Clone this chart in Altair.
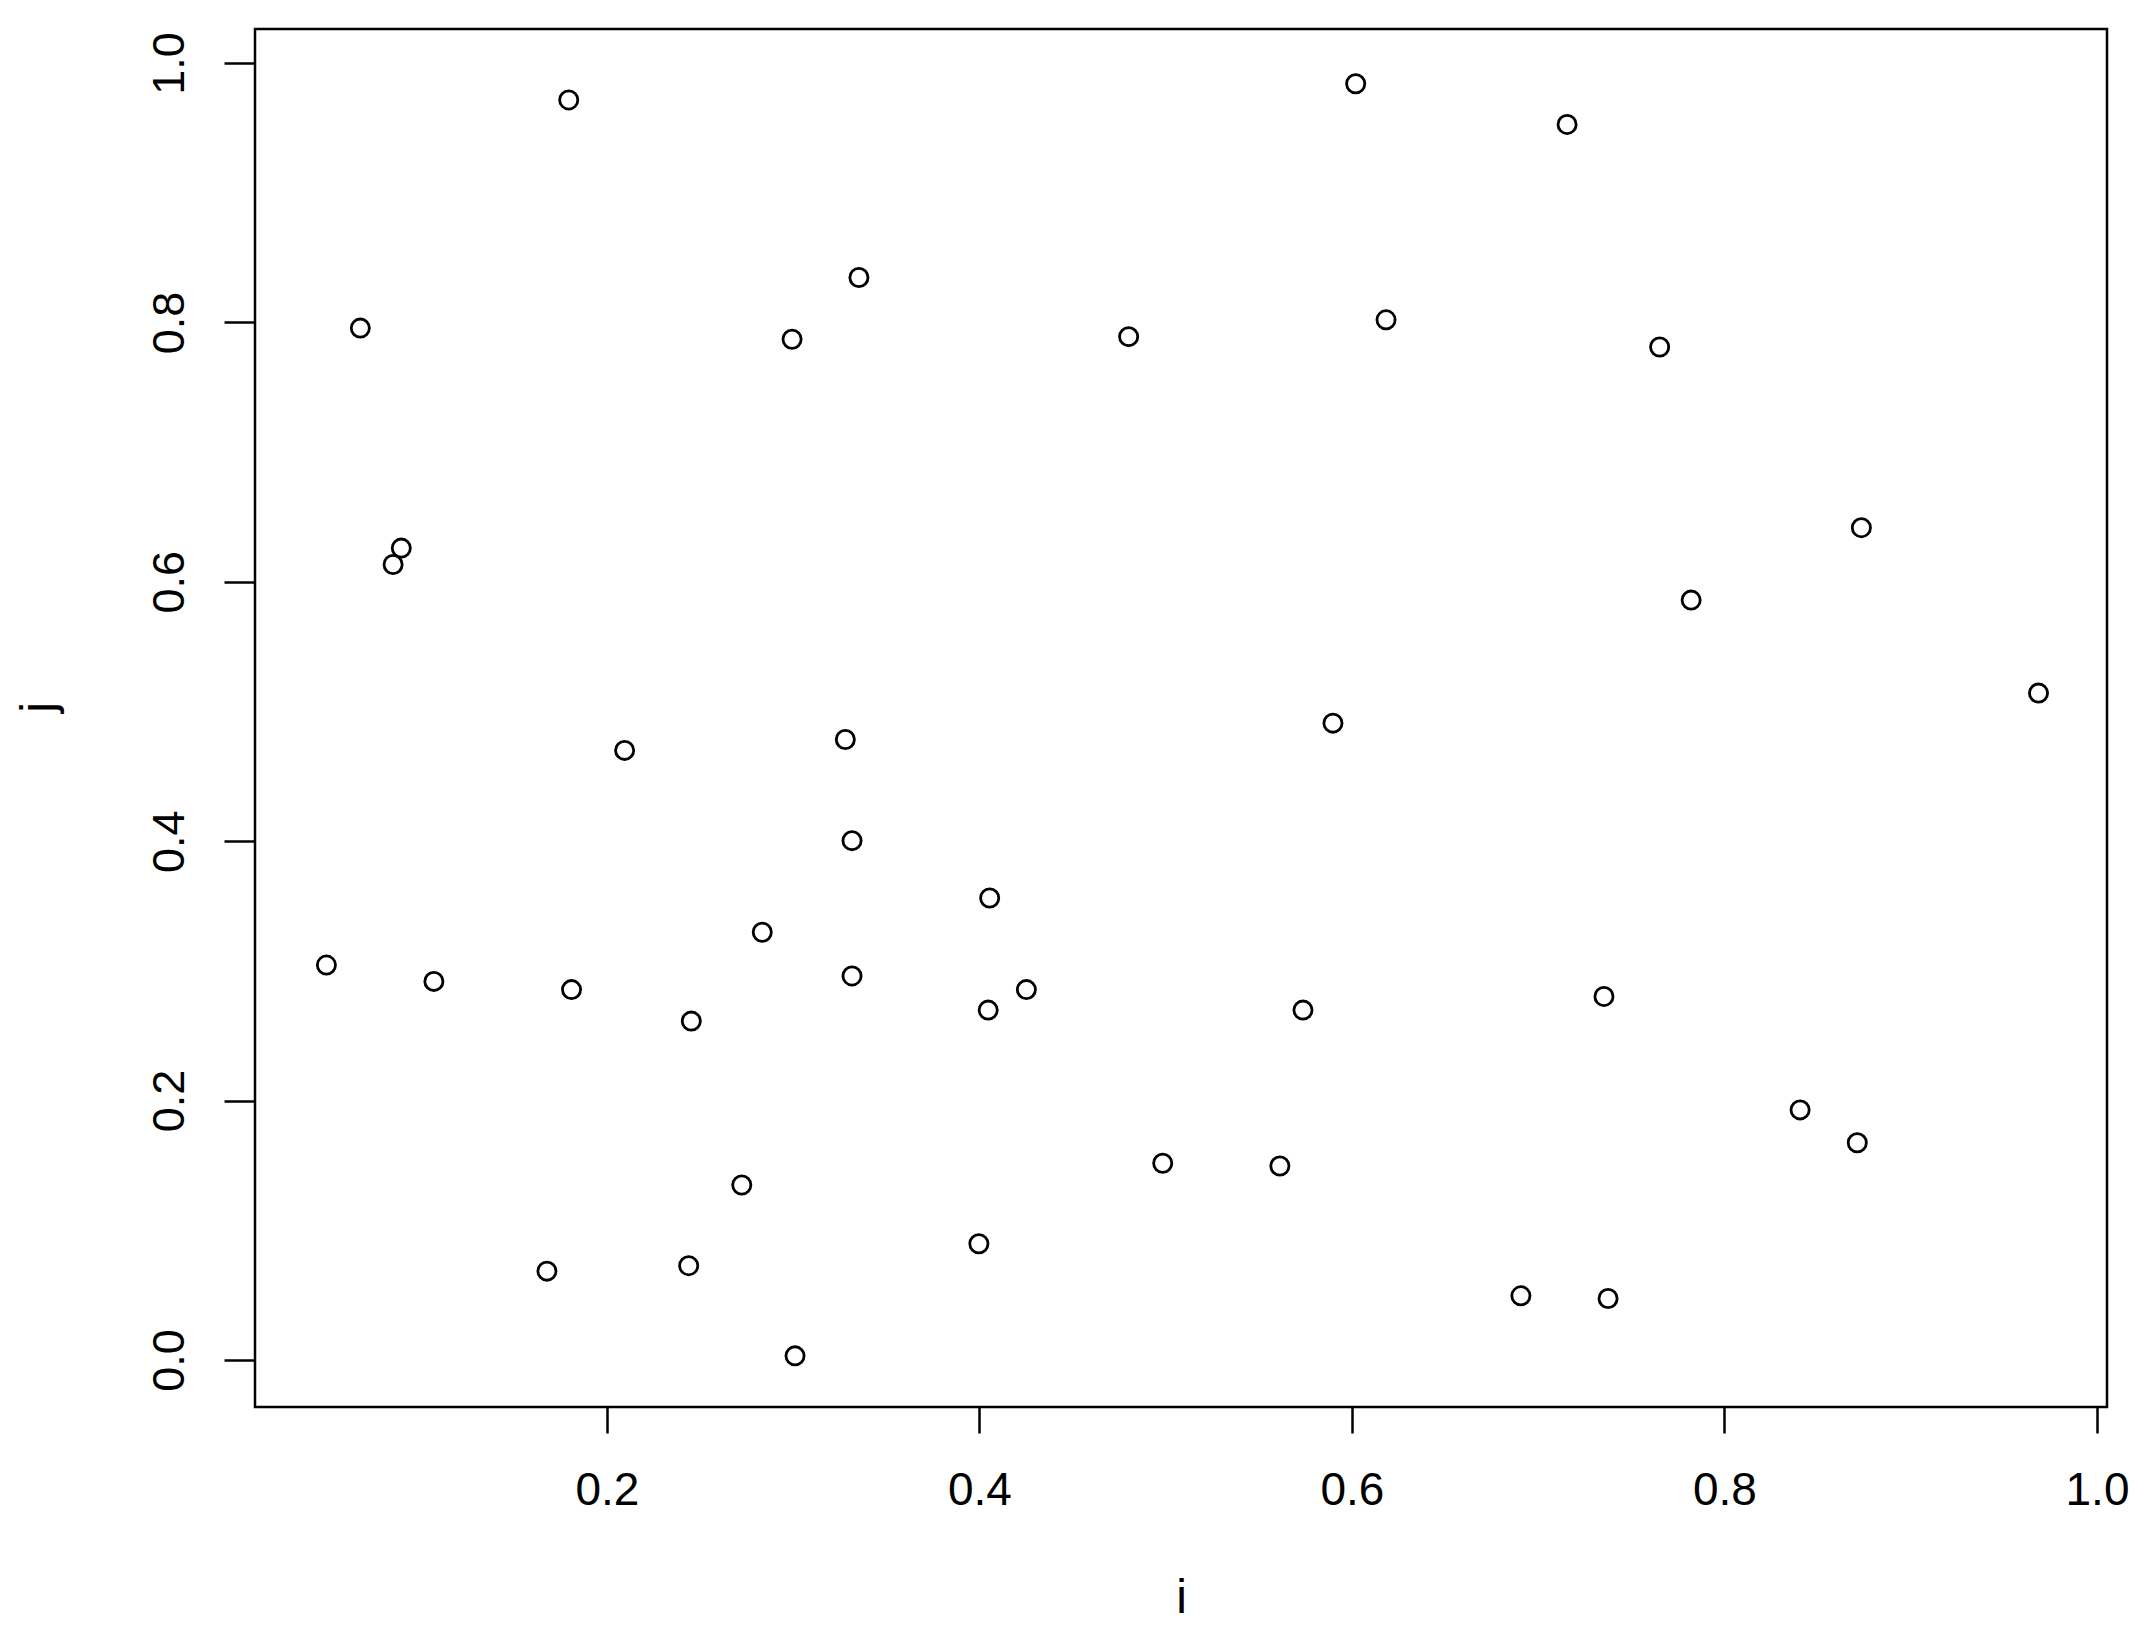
import altair as alt
import pandas as pd

i_vals = [0.1795, 0.6020, 0.7155, 0.3353, 0.0676, 0.2994, 0.4801, 0.6183, 0.7652, 0.0896,
          0.0852, 0.8735, 0.7821, 0.9686, 0.5898, 0.2095, 0.3280, 0.3316, 0.4055, 0.0494,
          0.1071, 0.1810, 0.2834, 0.3316, 0.2453, 0.4047, 0.4252, 0.5737, 0.7353, 0.8406,
          0.8713, 0.4984, 0.5613, 0.2724, 0.3997, 0.1678, 0.2439, 0.6907, 0.7375, 0.3010]
j_vals = [0.9715, 0.9840, 0.9526, 0.8346, 0.7956, 0.7870, 0.7890, 0.8020, 0.7810, 0.6260,
          0.6133, 0.6417, 0.5859, 0.5142, 0.4910, 0.4700, 0.4784, 0.4004, 0.3562, 0.3045,
          0.2919, 0.2856, 0.3298, 0.2961, 0.2613, 0.2698, 0.2856, 0.2698, 0.2803, 0.1928,
          0.1675, 0.1517, 0.1496, 0.1349, 0.0896, 0.0685, 0.0727, 0.0495, 0.0474, 0.0032]
x_ticks = [0.2, 0.4, 0.6, 0.8, 1.0]
y_ticks = [0.0, 0.2, 0.4, 0.6, 0.8, 1.0]

df = pd.DataFrame({"i": i_vals, "j": j_vals})

FONT = "Liberation Sans"

chart = alt.Chart(df).mark_point(
    shape="circle", filled=False, color="black", size=330, strokeWidth=2.8, opacity=1
).encode(
    x=alt.X("i:Q",
            scale=alt.Scale(domain=[0.01106, 1.00537], nice=False, zero=False),
            axis=alt.Axis(values=x_ticks, format=".1f", grid=False, domain=False,
                          tickSize=26, tickWidth=2.5, tickColor="black",
                          labelFont=FONT, labelFontSize=46, labelColor="black",
                          labelBaseline="alphabetic", labelPadding=71,
                          labelFlush=False, labelOverlap=False,
                          title="i", titleFont=FONT, titleFontSize=48,
                          titleFontWeight="normal", titleColor="black",
                          titleBaseline="alphabetic", titleY=205)),
    y=alt.Y("j:Q",
            scale=alt.Scale(domain=[-0.03624, 1.0262], nice=False, zero=False),
            axis=alt.Axis(values=y_ticks, format=".1f", grid=False, domain=False,
                          tickSize=31, tickWidth=2.5, tickColor="black",
                          labelFont=FONT, labelFontSize=45, labelColor="black",
                          labelAngle=270, labelAlign="center",
                          labelBaseline="alphabetic", labelPadding=41,
                          labelFlush=False, labelOverlap=False,
                          title="j", titleFont=FONT, titleFontSize=48,
                          titleFontWeight="normal", titleColor="black",
                          titleAngle=270, titleAlign="center",
                          titleBaseline="alphabetic", titleX=-202, titleY=678)),
).properties(
    width=1852, height=1378,
    autosize=alt.AutoSizeParams(type="none"),
    padding={"left": 247, "top": 21, "right": 26, "bottom": 214},
    background="white",
).configure_view(
    stroke="black", strokeWidth=2.5
)

chart.save("out.html", embed_options={"renderer": "svg", "actions": False})
